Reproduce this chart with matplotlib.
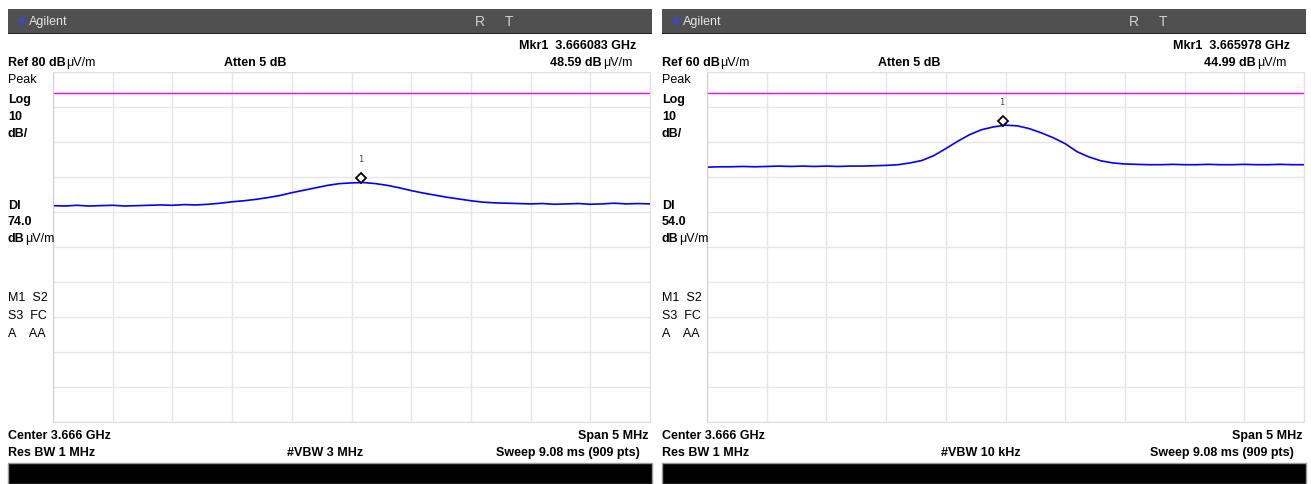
import numpy as np
import matplotlib
matplotlib.use("Agg")
import matplotlib.pyplot as plt
from matplotlib.patches import Rectangle
from matplotlib.transforms import ScaledTranslation

freq_off = np.round(np.arange(-2.5, 2.51, 0.1), 2)

traza_izq = [41.9, 41.8, 42.0, 41.8, 41.9, 42.0, 41.8, 41.9, 42.0, 42.1,
             42.0, 42.2, 42.1, 42.3, 42.6, 43.0, 43.3, 43.7, 44.2, 44.8,
             45.6, 46.3, 47.0, 47.7, 48.2, 48.4, 48.5, 48.2, 47.7, 47.0,
             46.2, 45.5, 44.9, 44.3, 43.8, 43.3, 42.9, 42.7, 42.6, 42.5,
             42.4, 42.5, 42.3, 42.4, 42.5, 42.3, 42.4, 42.6, 42.4, 42.5, 42.4]

traza_der = [32.9, 33.0, 33.0, 33.1, 33.0, 33.1, 33.2, 33.1, 33.2, 33.1,
             33.2, 33.1, 33.2, 33.2, 33.3, 33.4, 33.6, 34.1, 34.8, 36.2,
             38.2, 40.3, 42.2, 43.6, 44.4, 44.9, 44.7, 43.9, 42.7, 41.3,
             39.6, 37.3, 35.8, 34.7, 34.1, 33.8, 33.7, 33.6, 33.6, 33.7,
             33.6, 33.6, 33.7, 33.6, 33.6, 33.7, 33.6, 33.6, 33.7, 33.6, 33.6]

ref_level = [80, 60]
display_line = [74.0, 54.0]
mkr_freq_ghz = [3.666083, 3.665978]
mkr_ampl = [48.59, 44.99]
vbw = ["3 MHz", "10 kHz"]
center_ghz = 3.666
span_mhz = 5

W, H = 1311, 485
fig = plt.figure(figsize=(W / 100, H / 100), dpi=100)
fig.patch.set_facecolor("white")
renderer = fig.canvas.get_renderer()

FONT = ["Liberation Sans Narrow", "Liberation Sans", "DejaVu Sans"]


def fx(x):
    return x / W


def fy(y):
    return 1 - y / H


def txt(x, y, s, ha="left", bold=True, size=9, color="black", family=FONT):
    return fig.text(fx(x), fy(y), s, ha=ha, va="center", fontsize=size,
                    fontweight="bold" if bold else "normal", color=color,
                    family=family)


def txt_unidad(x, y, s, ha="left"):
    # parte en negrita + "μV/m" normal, una detras de otra
    if ha == "left":
        t = txt(x, y, s)
        bb = t.get_window_extent(renderer)
        txt(bb.x1 + 0.5, y, "\u03bcV/m", bold=False)
    else:
        t = txt(x, y, "\u03bcV/m", ha="right", bold=False)
        bb = t.get_window_extent(renderer)
        txt(bb.x0 - 0.5, y, s, ha="right")


def panel(dx, traza, ref, dl, mf, ma, vbw_txt):
    # Barra superior
    fig.patches.append(Rectangle((fx(dx + 8), fy(34)), fx(644), 24 / H,
                                 transform=fig.transFigure, facecolor="#505050",
                                 edgecolor="none"))
    fig.patches.append(Rectangle((fx(dx + 8), fy(35)), fx(644), 1.5 / H,
                                 transform=fig.transFigure, facecolor="#202020",
                                 edgecolor="none"))
    txt(dx + 15, 22, "\u2733", bold=False, size=10, color="#4040ff",
        family=["DejaVu Sans"])
    txt(dx + 29, 22, "Agilent", bold=False, size=9, color="#e6e6e6",
        family=["Liberation Sans", "DejaVu Sans"])
    txt(dx + 475, 22, "R", bold=False, size=10, color="#d0d0d0",
        family=["Liberation Sans", "DejaVu Sans"])
    txt(dx + 505, 22, "T", bold=False, size=10, color="#d0d0d0",
        family=["Liberation Sans", "DejaVu Sans"])

    # Cabecera de texto
    txt(dx + 636, 46, f"Mkr1  {mf:.6f} GHz", ha="right")
    txt_unidad(dx + 8, 63, f"Ref {ref} dB")
    txt(dx + 224, 63, "Atten 5 dB")
    txt_unidad(dx + 632, 63, f"{ma:.2f} dB", ha="right")

    # Etiquetas laterales
    txt(dx + 8, 80, "Peak", bold=False)
    txt(dx + 8, 100, "Log")
    txt(dx + 8, 117, "10")
    txt(dx + 8, 134, "dB/")
    txt(dx + 8, 206, "Dl")
    txt(dx + 8, 222, f"{dl:.1f}")
    txt_unidad(dx + 8, 239, "dB")
    txt(dx + 8, 298, "M1  S2", bold=False)
    txt(dx + 8, 316, "S3  FC", bold=False)
    txt(dx + 8, 334, "A    AA", bold=False)

    # Pie
    txt(dx + 8, 436, f"Center {center_ghz:.3f} GHz")
    txt(dx + 648, 436, f"Span {span_mhz} MHz", ha="right")
    txt(dx + 8, 453, "Res BW 1 MHz")
    txt(dx + 287, 453, f"#VBW {vbw_txt}")
    txt(dx + 640, 453, "Sweep 9.08 ms (909 pts)", ha="right")
    fig.patches.append(Rectangle((fx(dx + 8), 0), fx(644), 21 / H,
                                 transform=fig.transFigure, facecolor="black",
                                 edgecolor="#9a9a9a", linewidth=1))

    # Area de traza
    ax = fig.add_axes([fx(dx + 53), fy(423.3), fx(597), 350 / H])
    ax.set_xlim(-span_mhz / 2, span_mhz / 2)
    ax.set_ylim(ref - 100, ref)
    ax.set_xticks(np.arange(-2.5, 2.51, 0.5))
    ax.set_yticks(np.arange(ref - 100, ref + 1, 10))
    ax.grid(True, color="#e6e6e6", linewidth=1)
    ax.tick_params(length=0, labelleft=False, labelbottom=False)
    for s in ax.spines.values():
        s.set_color("#e0e0e0")
    ax.spines["left"].set_color("#d0d0d0")
    ax.axhline(dl, color="#ff00ff", linewidth=1)
    ax.plot(freq_off, traza, color="#0000ff", linewidth=1.2)

    # Marcador 1
    mx = (mf - center_ghz) * 1000
    off = ax.transData + ScaledTranslation(0, 4 / 100, fig.dpi_scale_trans)
    ax.plot([mx], [ma], marker="D", markersize=5.5, markerfacecolor="white",
            markeredgecolor="black", markeredgewidth=1.3, transform=off,
            clip_on=False)
    ax.annotate("1", (mx, ma), xytext=(0, 17), textcoords="offset points",
                ha="center", va="center", fontsize=6, color="#404040",
                family=["DejaVu Sans Mono"])


panel(0, traza_izq, ref_level[0], display_line[0], mkr_freq_ghz[0], mkr_ampl[0], vbw[0])
panel(654, traza_der, ref_level[1], display_line[1], mkr_freq_ghz[1], mkr_ampl[1], vbw[1])

fig.savefig("out.png", dpi=100, facecolor="white")
